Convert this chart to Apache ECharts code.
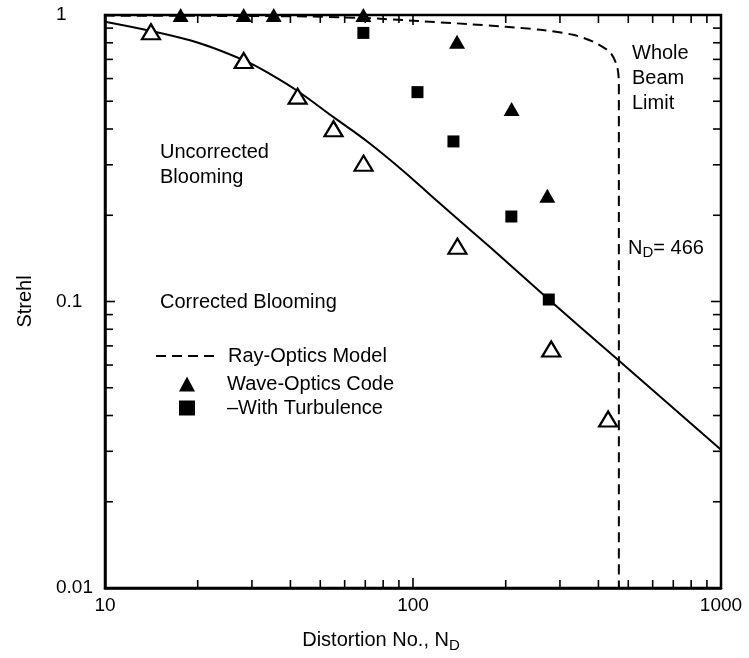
<!DOCTYPE html>
<html>
<head>
<meta charset="utf-8">
<script src="https://cdn.jsdelivr.net/npm/echarts@6/dist/echarts.min.js"></script>
<style>html,body{margin:0;padding:0;background:#fff}#c{width:749px;height:658px}</style>
</head>
<body>
<div id="c"></div>
<script>
// ---- data ----
const waveX = [17.6, 28.2, 35.3, 69, 139, 209, 273];
const waveY = [1.0, 1.0, 1.0, 1.0, 0.807, 0.47, 0.234];
const turbX = [69, 103.4, 135.3, 208.6, 276];
const turbY = [0.866, 0.538, 0.362, 0.198, 0.1016];
const uncorrX = [14.1, 28.2, 42.2, 55.2, 69.1, 139.4, 281, 430];
const uncorrY = [0.874, 0.694, 0.521, 0.401, 0.304, 0.156, 0.0683, 0.0389];
const fitX = [10, 19, 28.2, 34.5, 42.2, 55.2, 71.2, 95, 116.5, 180, 276, 447, 1000];
const fitY = [0.948, 0.815, 0.696, 0.621, 0.543, 0.44, 0.361, 0.28, 0.23, 0.153, 0.1016, 0.0646, 0.0304];
const rayX = [10, 40, 70, 100, 150, 200, 259, 331, 385, 437, 460, 466, 466];
const rayY = [0.995, 0.99, 0.976, 0.955, 0.93, 0.91, 0.888, 0.853, 0.807, 0.74, 0.662, 0.58, 0.01];
const xTickLabels = ['10', '100', '1000'];
const yTickLabels = ['0.01', '0.1', '1'];
const xTicksMinor = [20, 30, 40, 50, 60, 70, 80, 90, 200, 300, 400, 500, 600, 700, 800, 900];
const xTicksMajor = [100];
const yTicksMinor = [0.02, 0.03, 0.04, 0.05, 0.06, 0.07, 0.08, 0.09, 0.2, 0.3, 0.4, 0.5, 0.6, 0.7, 0.8, 0.9];
const yTicksMajor = [0.1];

const zip = (a, b) => a.map((v, i) => [v, b[i]]);
const FF = '"Liberation Sans", Arial, Helvetica, sans-serif';

const xTickData = xTicksMinor.map(v => [v, 1, 0]).concat(xTicksMajor.map(v => [v, 1, 1]));
const yTickData = yTicksMinor.map(v => [10, v, 0]).concat(yTicksMajor.map(v => [10, v, 1]));

function xTickRender(params, api) {
  const cs = params.coordSys;
  const x = api.coord([api.value(0), 1])[0];
  const len = api.value(2) ? 10 : 8;
  const st = { stroke: '#000', lineWidth: 1.6 };
  return { type: 'group', children: [
    { type: 'line', shape: { x1: x, y1: cs.y + cs.height, x2: x, y2: cs.y + cs.height - len }, style: st },
    { type: 'line', shape: { x1: x, y1: cs.y, x2: x, y2: cs.y + len }, style: st }
  ]};
}
function yTickRender(params, api) {
  const cs = params.coordSys;
  const y = api.coord([10, api.value(1)])[1];
  const len = api.value(2) ? 10 : 8;
  const st = { stroke: '#000', lineWidth: 1.6 };
  return { type: 'group', children: [
    { type: 'line', shape: { x1: cs.x, y1: y, x2: cs.x + len, y2: y }, style: st },
    { type: 'line', shape: { x1: cs.x + cs.width, y1: y, x2: cs.x + cs.width - len, y2: y }, style: st }
  ]};
}

const legendText = { fontSize: 20, fontFamily: FF, color: '#000', lineHeight: 22 };

const chart = echarts.init(document.getElementById('c'), null, { renderer: 'canvas' });
chart.setOption({
  backgroundColor: '#fff',
  animation: false,
  textStyle: { fontFamily: FF, color: '#000' },
  grid: { left: 105, right: 28, top: 15, bottom: 63, show: true, borderColor: '#000', borderWidth: 2.5, backgroundColor: 'transparent' },
  xAxis: {
    type: 'log', logBase: 10, min: 10, max: 1000,
    axisLine: { show: true, lineStyle: { color: '#000', width: 2.5 } },
    axisTick: { show: false },
    splitLine: { show: false },
    minorTick: { show: false },
    axisLabel: { color: '#000', fontSize: 19, fontFamily: FF, margin: 8,
      formatter: v => xTickLabels.find(t => Math.abs(Number(t) - v) < 1e-6 * v) || '' },
    name: 'Distortion No., N{s|D}',
    nameLocation: 'middle', nameGap: 40,
    nameTextStyle: { color: '#000', fontSize: 20, fontFamily: FF, padding: [0, 64, 0, 0],
      rich: { s: { fontSize: 15, fontFamily: FF, color: '#000', padding: [10, 0, 0, 0] } } }
  },
  yAxis: {
    type: 'log', logBase: 10, min: 0.01, max: 1,
    axisLine: { show: true, lineStyle: { color: '#000', width: 2.5 } },
    axisTick: { show: false },
    splitLine: { show: false },
    minorTick: { show: false },
    axisLabel: { color: '#000', fontSize: 19, fontFamily: FF, margin: 49, align: 'left',
      formatter: v => yTickLabels.find(t => Math.abs(Number(t) - v) < 1e-6 * v) || '' },
    name: 'Strehl', nameLocation: 'middle', nameGap: 70,
    nameTextStyle: { color: '#000', fontSize: 20, fontFamily: FF }
  },
  legend: [
    {
      data: ['Ray-Optics Model'],
      orient: 'vertical', left: 150, top: 340, itemWidth: 58, itemHeight: 14,
      selectedMode: false,
      itemStyle: { opacity: 0 },
      lineStyle: { width: 2, type: [10, 6], color: '#000' },
      textStyle: Object.assign({ padding: [0, 0, 0, 9] }, legendText)
    },
    {
      data: ['Wave-Optics Code', '–With Turbulence'],
      orient: 'vertical', left: 174, top: 368, itemWidth: 16, itemHeight: 15, itemGap: 2,
      selectedMode: false,
      textStyle: Object.assign({ padding: [0, 0, 0, 27] }, legendText)
    }
  ],
  graphic: [
    { type: 'text', left: 160, top: 140, style: { text: 'Uncorrected\nBlooming', fontSize: 20, lineHeight: 25, fontFamily: FF, fill: '#000' } },
    { type: 'text', left: 160, top: 292, style: { text: 'Corrected Blooming', fontSize: 20, fontFamily: FF, fill: '#000' } },
    { type: 'text', left: 632, top: 41, style: { text: 'Whole\nBeam\nLimit', fontSize: 20, lineHeight: 25, fontFamily: FF, fill: '#000' } },
    { type: 'text', left: 628, top: 238, style: {
        text: '{n|N}{s|D}{n|= 466}', fontFamily: FF, fill: '#000',
        rich: { n: { fontSize: 20, fontFamily: FF, color: '#000' },
                s: { fontSize: 15, fontFamily: FF, color: '#000', padding: [10, 0, 0, 0] } } } }
  ],
  series: [
    { name: 'xticks', type: 'custom', renderItem: xTickRender, data: xTickData, encode: { x: 0, y: 1 }, silent: true, z: 5 },
    { name: 'yticks', type: 'custom', renderItem: yTickRender, data: yTickData, encode: { x: 0, y: 1 }, silent: true, z: 5 },
    { name: 'Model fit', type: 'line', data: zip(fitX, fitY), symbol: 'none', smooth: 0.35,
      lineStyle: { color: '#000', width: 2 }, z: 3 },
    { name: 'Ray-Optics Model', type: 'line', data: zip(rayX, rayY), symbol: 'none', smooth: 0.25,
      lineStyle: { color: '#000', width: 2, type: [10, 6] }, itemStyle: { color: '#000' }, z: 3 },
    { name: 'Uncorrected', type: 'scatter', data: zip(uncorrX, uncorrY), symbol: 'triangle', symbolSize: [18, 15],
      itemStyle: { color: '#fff', borderColor: '#000', borderWidth: 2.2, opacity: 1 }, clip: false, z: 4 },
    { name: 'Wave-Optics Code', type: 'scatter', data: zip(waveX, waveY), symbol: 'triangle', symbolSize: [16, 14],
      itemStyle: { color: '#000', opacity: 1 }, clip: false, z: 4 },
    { name: '–With Turbulence', type: 'scatter', data: zip(turbX, turbY), symbol: 'rect', symbolSize: 12,
      itemStyle: { color: '#000', opacity: 1 }, clip: false, z: 4 }
  ]
});
</script>
</body>
</html>
